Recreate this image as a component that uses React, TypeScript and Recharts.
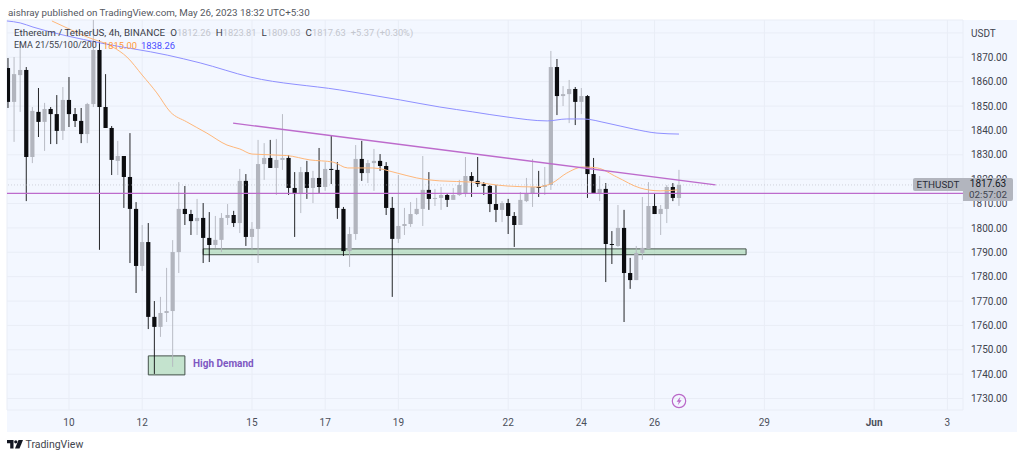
import React from "react";
import { ComposedChart, Bar, Line, XAxis, YAxis, CartesianGrid, ReferenceLine, ReferenceArea } from "recharts";

const opens = [1865.6,1851.7,1862.7,1864.8,1829.1,1847.6,1843.5,1848.8,1846.7,1839.8,1852.5,1846.7,1843.9,1838.5,1850.8,1873.0,1849.6,1841.0,1827.5,1829.5,1820.9,1807.8,1784.4,1794.2,1763.5,1759.4,1765.1,1765.9,1790.1,1807.8,1805.7,1802.8,1804.1,1795.9,1793.0,1795.1,1804.1,1805.3,1802.0,1819.3,1796.3,1799.6,1826.2,1828.7,1824.6,1827.9,1828.7,1816.4,1813.9,1822.9,1816.4,1820.5,1816.8,1824.2,1823.8,1807.8,1790.5,1797.5,1828.3,1822.5,1826.6,1827.5,1825.4,1808.2,1795.5,1800.8,1801.6,1805.7,1807.8,1815.6,1811.9,1812.3,1813.5,1811.5,1813.5,1813.9,1821.3,1819.3,1818.0,1817.2,1809.8,1807.4,1810.2,1804.9,1801.2,1811.0,1814.3,1816.8,1816.8,1817.6,1866.0,1854.1,1854.9,1857.0,1851.7,1854.1,1822.1,1814.3,1816.0,1793.4,1792.6,1800.0,1781.5,1778.6,1789.7,1791.4,1809.0,1805.7,1807.8,1816.8,1812.26];
const closes = [1851.7,1863.1,1864.8,1829.1,1848.0,1843.5,1848.8,1846.7,1839.8,1852.5,1846.7,1843.9,1838.5,1850.8,1873.0,1849.6,1841.0,1827.9,1829.5,1820.9,1807.8,1784.4,1794.2,1763.5,1759.4,1765.1,1765.9,1790.1,1807.8,1805.7,1802.8,1804.1,1795.9,1793.0,1795.1,1804.1,1805.3,1802.0,1819.3,1796.3,1799.6,1826.2,1828.7,1824.6,1827.9,1828.7,1816.4,1813.9,1822.9,1816.4,1820.5,1816.8,1824.2,1824.0,1808.2,1790.5,1797.5,1828.3,1822.5,1826.6,1827.5,1825.4,1808.2,1795.5,1800.8,1801.6,1805.7,1807.8,1815.6,1811.9,1812.3,1813.5,1811.5,1813.5,1817.6,1821.3,1819.3,1818.0,1817.2,1809.8,1807.4,1810.2,1804.9,1801.2,1811.5,1814.3,1816.8,1816.6,1817.6,1866.0,1854.1,1854.9,1857.0,1851.7,1854.1,1822.1,1814.3,1816.0,1793.4,1793.0,1800.0,1781.5,1778.6,1789.7,1791.8,1809.0,1805.7,1807.8,1816.8,1812.3,1817.63];
const highs = [1869.7,1870.1,1876.3,1866.0,1849.6,1857.4,1851.3,1849.6,1854.5,1857.8,1861.9,1849.2,1849.2,1851.3,1885.3,1877.1,1863.1,1841.8,1835.7,1829.5,1838.9,1810.6,1801.2,1802.0,1770.0,1771.7,1783.6,1795.0,1818.8,1817.2,1807.4,1811.9,1810.2,1806.5,1804.9,1806.1,1809.8,1807.0,1824.2,1822.1,1802.4,1836.1,1834.8,1836.1,1836.5,1846.7,1829.9,1822.9,1825.0,1827.5,1823.4,1832.8,1827.0,1837.7,1827.0,1808.6,1800.4,1834.0,1835.7,1827.9,1832.4,1830.3,1827.0,1812.7,1821.7,1808.2,1810.6,1812.3,1829.5,1822.9,1816.0,1816.8,1814.3,1816.4,1819.7,1829.1,1822.9,1829.1,1818.8,1817.6,1817.6,1811.0,1811.9,1806.5,1814.7,1820.5,1828.3,1823.4,1825.0,1872.6,1869.3,1858.2,1860.7,1857.8,1857.4,1854.5,1828.7,1821.3,1818.4,1798.7,1809.4,1807.4,1787.7,1792.6,1812.7,1818.8,1814.3,1809.4,1817.6,1818.4,1823.81];
const lows = [1849.2,1835.3,1847.6,1811.0,1826.6,1837.3,1831.6,1834.4,1834.4,1836.1,1841.4,1841.4,1834.8,1834.8,1849.6,1791.0,1841.0,1821.7,1821.7,1808.2,1785.6,1773.3,1782.3,1758.5,1740.1,1755.3,1761.4,1743.0,1781.5,1801.2,1797.1,1797.1,1785.6,1786.0,1791.8,1790.1,1801.2,1800.4,1797.9,1792.6,1791.0,1785.6,1819.7,1824.6,1813.5,1823.8,1813.5,1796.3,1806.1,1811.9,1810.2,1814.3,1815.2,1818.0,1803.7,1788.5,1784.0,1795.1,1819.3,1818.4,1815.2,1823.4,1805.3,1771.7,1793.8,1797.1,1800.4,1805.3,1800.8,1807.4,1809.0,1807.4,1808.6,1811.5,1813.1,1812.7,1812.7,1816.8,1813.5,1806.5,1802.4,1802.4,1797.5,1792.2,1801.2,1810.6,1808.6,1812.7,1813.5,1815.6,1846.3,1850.0,1843.0,1842.2,1846.7,1812.3,1814.3,1811.0,1777.8,1785.2,1792.2,1761.4,1775.0,1778.6,1786.9,1791.4,1805.7,1797.1,1802.0,1811.0,1809.03];

const orangePos = [7.2,9.7,13,17.2,19.5,22,24.4,26.6,29.3,32.6,35.9,38,40,45.7,49.5,53.3,55.7,59.8,63.8,67,70.8,76.2,81.8,86.7,89.2,91.6,94.3,96.6,99.8,103.6,106.9,109.8];
const orangeVals = [1884.9,1882.0,1878.3,1874.2,1870.1,1862.7,1855.4,1847.6,1843.5,1838.9,1834.0,1832.4,1830.3,1829.7,1827.9,1827.0,1824.6,1824.6,1822.5,1820.5,1819.3,1818.8,1817.2,1816.8,1818.4,1822.5,1825.0,1824.6,1820.9,1816.4,1815.2,1815.6];
const bluePos = [-0.16,2,4.1,15.1,26.1,31.5,39.7,54.4,64.3,70.8,76.2,81.8,88.4,91.6,94.3,98.2,102.5,106.4,110];
const blueVals = [1884.9,1884.1,1882.4,1875.9,1870.9,1867.7,1861.9,1856.6,1852.5,1849.6,1847.6,1845.5,1843.9,1844.7,1844.7,1843.0,1840.6,1838.9,1838.5];
const trendPos = [36.9,116];
const trendVals = [1843.0,1817.7];

const xTickPos = [10,22,40,52,64,82,94,106,124,142,154];
const xTickLabels = ["10","12","15","17","19","22","24","26","29","Jun","3"];
const yTicks = [1730,1740,1750,1760,1770,1780,1790,1800,1810,1820,1830,1840,1850,1860,1870,1880];
const lastPrice = 1817.63;
const channelPrice = 1814.2;

const FONT = "Roboto, 'Noto Sans', sans-serif";
const GREY = "#b2b5be";
const BLACK = "#0c0d10";

const candles = opens.map((o, i) => ({ k: i, open: o, close: closes[i], high: highs[i], low: lows[i], range: [lows[i], highs[i]] }));
const toLine = (xs: number[], ys: number[]) => xs.map((k, i) => ({ k, v: ys[i] }));

function Candle(props: any) {
  const { x, y, width, height, payload } = props;
  if (!payload || !height) return null;
  const up = payload.close >= payload.open;
  const color = up ? GREY : BLACK;
  const perUnit = height / (payload.high - payload.low);
  const top = y + (payload.high - Math.max(payload.open, payload.close)) * perUnit;
  const bodyH = Math.max(Math.abs(payload.open - payload.close) * perUnit, 1);
  const cx = x + width / 2;
  return (
    <g>
      <line x1={cx} x2={cx} y1={y} y2={y + height} stroke={color} strokeWidth={0.9} />
      <rect x={cx - 2.1} y={top} width={4.2} height={bodyH} fill={color} />
    </g>
  );
}

function XTick(props: any) {
  const { x, y, payload } = props;
  const idx = xTickPos.indexOf(payload.value);
  const label = xTickLabels[idx];
  return (
    <text x={x} y={y} dy={3.5} textAnchor="middle" fontFamily={FONT} fontSize={10} fontWeight={label === "Jun" ? 700 : 400} fill="#4a4e5a">
      {label}
    </text>
  );
}

function YTick(props: any) {
  const { x, y, payload } = props;
  return (
    <text x={x} y={y} dy={3.6} textAnchor="start" fontFamily={FONT} fontSize={10} fill="#3f434e">
      {payload.value === 1880 ? "USDT" : payload.value.toFixed(2)}
    </text>
  );
}

const abs = (left: number, top: number, extra: React.CSSProperties = {}): React.CSSProperties => ({
  position: "absolute", left, top, fontFamily: FONT, fontSize: 9.8, lineHeight: "13px", whiteSpace: "nowrap", ...extra,
});
const val: React.CSSProperties = { color: "#c3c6ce", fontSize: 9.3 };

export default function App() {
  return (
    <div style={{ position: "fixed", left: 0, top: 0, width: 1024, height: 458, background: "#fff", overflow: "hidden" }}>
      <div style={{ position: "absolute", left: 7, top: 20, width: 1010, height: 412, background: "#f3f7ff" }} />
      <div style={abs(8, 5.5, { color: "#55585f" })}>aishray published on TradingView.com, May 26, 2023 18:32 UTC+5:30</div>
      <ComposedChart
        width={1024}
        height={458}
        data={candles}
        margin={{ left: 7, top: 20, right: 0, bottom: 0 }}
        style={{ position: "absolute", left: 0, top: 0 }}
      >
        <CartesianGrid stroke="#e9edf6" strokeWidth={1} />
        <XAxis dataKey="k" type="number" scale="linear" domain={[-0.164, 156.56]} ticks={xTickPos} interval={0} axisLine={false} tickLine={false} tick={<XTick />} tickMargin={6} height={48} allowDataOverflow />
        <YAxis orientation="right" type="number" domain={[1725.3, 1885.3]} ticks={yTicks} interval={0} axisLine={false} tickLine={false} tick={<YTick />} tickMargin={2} width={61} allowDataOverflow />
        <Bar dataKey="range" barSize={5} shape={<Candle />} isAnimationActive={false} />
        <ReferenceLine y={lastPrice} stroke={GREY} strokeOpacity={0.7} strokeDasharray="1 2" strokeWidth={0.8} />
        <ReferenceLine y={channelPrice} stroke="#bd6bcc" strokeWidth={1.3} />
        <ReferenceArea x1={32} x2={121} y1={1789} y2={1791.4} fill="#4caf50" fillOpacity={0.28} stroke="#44524a" strokeWidth={1} />
        <ReferenceArea x1={23} x2={29} y1={1739.7} y2={1747.5} fill="#4caf50" fillOpacity={0.28} stroke="#44524a" strokeWidth={1} />
        <Line data={toLine(orangePos, orangeVals)} dataKey="v" stroke="#ffb77a" strokeWidth={1} dot={false} type="monotone" isAnimationActive={false} />
        <Line data={toLine(bluePos, blueVals)} dataKey="v" stroke="#8f90ff" strokeWidth={1} dot={false} type="monotone" isAnimationActive={false} />
        <Line data={toLine(trendPos, trendVals)} dataKey="v" stroke="#bd6bcc" strokeWidth={1.3} dot={false} type="linear" isAnimationActive={false} />
      </ComposedChart>
      <div style={abs(14, 25.5, { color: "#3c3f4a" })}>
        Ethereum / TetherUS, 4h, BINANCE<span style={{ marginLeft: 5 }}>O</span><span style={val}>1812.26</span>
        <span style={{ marginLeft: 5 }}>H</span><span style={val}>1823.81</span>
        <span style={{ marginLeft: 5 }}>L</span><span style={val}>1809.03</span>
        <span style={{ marginLeft: 5 }}>C</span><span style={val}>1817.63</span>
        <span style={{ ...val, marginLeft: 5 }}>+5.37 (+0.30%)</span>
      </div>
      <div style={abs(14, 38.5, { color: "#3c3f4a", fontSize: 9 })}>EMA 21/55/100/200</div>
      <div style={abs(103, 38.5, { color: "#ff9a3c", fontSize: 9.4 })}>1815.00</div>
      <div style={abs(141, 38.5, { color: "#4a4dff", fontSize: 9.4 })}>1838.26</div>
      <div style={abs(193, 356.5, { color: "#7e57c2", fontWeight: 700, fontSize: 10 })}>High Demand</div>
      <div style={abs(913, 178, { width: 50, height: 13, background: GREY, color: "#2a2e39", fontSize: 9.8, textAlign: "center", borderRadius: "2px 0 0 2px" })}>ETHUSDT</div>
      <div style={abs(963, 178, { width: 50, height: 23, background: GREY, color: "#131722", fontSize: 10, textAlign: "center", borderRadius: "0 2px 2px 0" })}>
        <div style={{ lineHeight: "12px" }}>1817.63</div>
        <div style={{ lineHeight: "10px", color: "#3f434e", fontSize: 9.8 }}>02:57:02</div>
      </div>
      <svg width={16} height={16} style={{ position: "absolute", left: 671, top: 393 }}>
        <circle cx={8} cy={8} r={6.7} fill="none" stroke="#ba68c8" strokeWidth={1.2} />
        <path d="M9.4 3.8 L5.6 8.8 H7.8 L6.8 12.2 L10.6 7.2 H8.4 Z" fill="#ba68c8" />
      </svg>
      <svg width={16} height={10} viewBox="0 0 16 10" style={{ position: "absolute", left: 7, top: 440 }}>
        <path d="M0 0 H6.5 V8.5 H3.2 V3.2 H0 Z" fill="#131722" />
        <circle cx={8.8} cy={1.8} r={1.6} fill="#131722" />
        <path d="M11.5 0 H16 L12.5 8.5 H8 Z" fill="#131722" />
      </svg>
      <div style={abs(25.5, 438, { color: "#42454e", fontSize: 10.5 })}>TradingView</div>
    </div>
  );
}
